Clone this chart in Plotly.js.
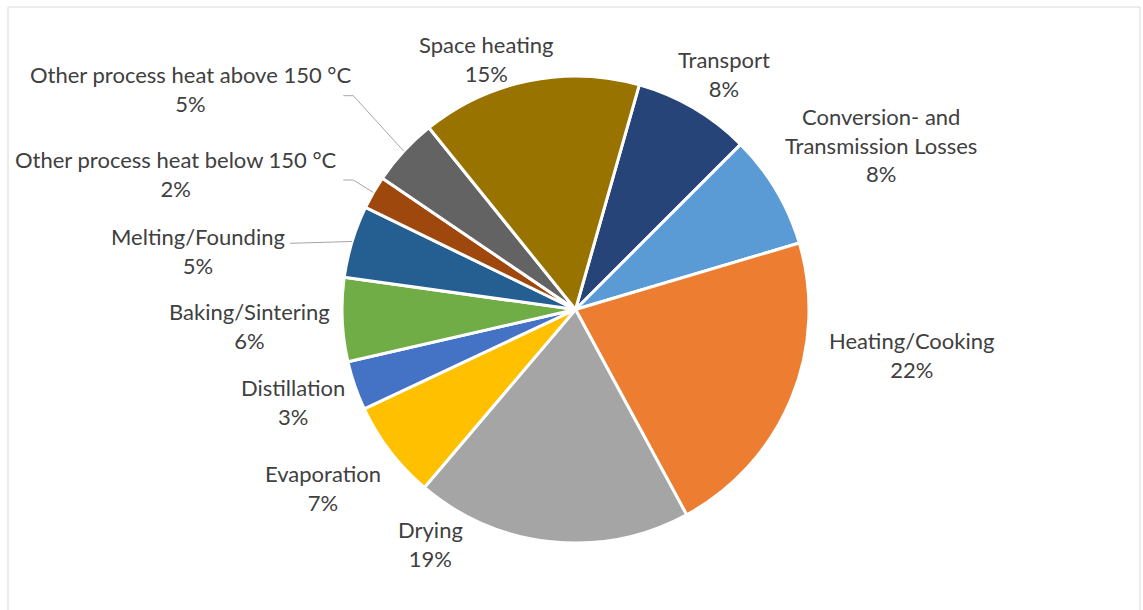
<!DOCTYPE html>
<html>
<head>
<meta charset="utf-8">
<script src="https://cdn.plot.ly/plotly-3.0.1.min.js"></script>
<style>
  html, body { margin: 0; padding: 0; background: #ffffff; }
  #chart { width: 1143px; height: 610px; }
</style>
</head>
<body>
<div id="chart"></div>
<script>
// ---- data (shares in %; clockwise from Transport) ----
const categories = [
  'Transport',
  'Conversion- and Transmission Losses',
  'Heating/Cooking',
  'Drying',
  'Evaporation',
  'Distillation',
  'Baking/Sintering',
  'Melting/Founding',
  'Other process heat below 150 °C',
  'Other process heat above 150 °C',
  'Space heating'
];
const shares = [8.1, 7.9, 21.7, 19.1, 6.8, 3.4, 5.8, 5.0, 2.3, 4.7, 15.2];

// ---- styles ----
const sliceColors = ['#264478', '#5B9BD5', '#ED7D31', '#A5A5A5', '#FFC000', '#4472C4',
                     '#70AD47', '#255E91', '#9E480E', '#636363', '#997300'];

// ---- layout (pixels) ----
const W = 1143, H = 610;
const pieCenterPx = [575.5, 309.5];
const pieRadiusPx = 233.5;
const startAngleDeg = 15.85;
// label block centres (pixels)
const labelCx = [724, 881, 911, 430.5, 323, 292.5, 249, 197.5, 176, 190.5, 486];
const labelCy = [74, 145, 354.5, 543.5, 488, 402, 326, 251, 173.5, 89, 59];
// leader lines: label-side anchor points (pixels); slice end computed from geometry
const leaders = [
  { idx: 9, pts: [[343.3, 95.7], [353.3, 95.7]] },
  { idx: 8, pts: [[343.3, 180], [353.3, 180]] },
  { idx: 7, pts: [[290, 243.3]] }
];

const px2x = p => p / W;
const px2y = p => 1 - p / H;

const total = shares.reduce((a, b) => a + b, 0);

const domX = [px2x(pieCenterPx[0] - pieRadiusPx - 60), px2x(pieCenterPx[0] + pieRadiusPx + 60)];
const domY = [px2y(pieCenterPx[1] + pieRadiusPx), px2y(pieCenterPx[1] - pieRadiusPx)];

const trace = {
  type: 'pie',
  labels: categories,
  values: shares,
  sort: false,
  direction: 'clockwise',
  rotation: startAngleDeg,
  textinfo: 'none',
  textposition: 'none',
  hoverinfo: 'label+percent',
  marker: { colors: sliceColors, line: { color: '#ffffff', width: 3 } },
  domain: { x: domX, y: domY },
  showlegend: false
};

const font = { family: 'Lato, "Open Sans", sans-serif', size: 22, color: '#404040' };

function wrapLabel(name) {
  return name.replace('Conversion- and ', 'Conversion- and<br>');
}

const annotations = categories.map((name, i) => ({
  xref: 'paper', yref: 'paper',
  x: px2x(labelCx[i]), y: px2y(labelCy[i]),
  xanchor: 'center', yanchor: 'middle',
  showarrow: false,
  align: 'center',
  text: wrapLabel(name) + '<br>' + Math.round(shares[i] / total * 100) + '%',
  font: font
}));

// mid-angle of each slice (clockwise from 12 o'clock)
const midAngles = [];
let acc = startAngleDeg;
shares.forEach(v => {
  const span = v / total * 360;
  midAngles.push(acc + span / 2);
  acc += span;
});

const shapes = [];
leaders.forEach(l => {
  const a = midAngles[l.idx] * Math.PI / 180;
  const end = [pieCenterPx[0] + pieRadiusPx * Math.sin(a), pieCenterPx[1] - pieRadiusPx * Math.cos(a)];
  const pts = l.pts.concat([end]);
  let path = 'M ' + px2x(pts[0][0]) + ' ' + px2y(pts[0][1]);
  for (let k = 1; k < pts.length; k++) path += ' L ' + px2x(pts[k][0]) + ' ' + px2y(pts[k][1]);
  shapes.push({ type: 'path', xref: 'paper', yref: 'paper', path: path,
                line: { color: '#A6A6A6', width: 1 } });
});

// chart-area border
shapes.push({ type: 'rect', xref: 'paper', yref: 'paper',
  x0: px2x(8), x1: px2x(1140), y0: px2y(640), y1: px2y(7),
  line: { color: '#D9D9D9', width: 1 }, fillcolor: 'rgba(0,0,0,0)', layer: 'below' });

const layout = {
  width: W, height: H,
  margin: { l: 0, r: 0, t: 0, b: 0 },
  paper_bgcolor: '#ffffff',
  plot_bgcolor: '#ffffff',
  showlegend: false,
  annotations: annotations,
  shapes: shapes,
  font: font
};

Plotly.newPlot('chart', [trace], layout, { displayModeBar: false, staticPlot: true });
</script>
</body>
</html>
